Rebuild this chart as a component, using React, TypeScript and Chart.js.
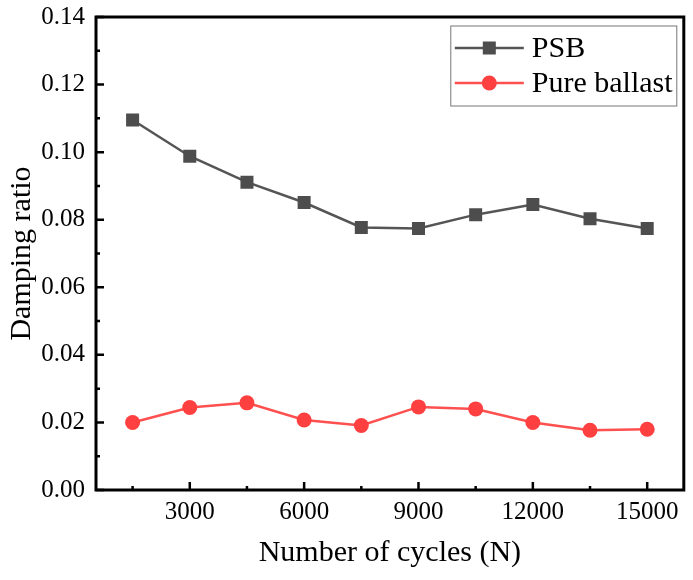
import { useEffect, useRef } from "react"
import { Chart, registerables, type ChartConfiguration, type Plugin } from "chart.js"

Chart.register(...registerables)

const FONT = "'Liberation Serif', 'Times New Roman', serif"

const cycles = [1500, 3000, 4500, 6000, 7500, 9000, 10500, 12000, 13500, 15000]
const psb = [0.1095, 0.0988, 0.0911, 0.0851, 0.0777, 0.0774, 0.0815, 0.0845, 0.0803, 0.0774]
const pureBallast = [0.02, 0.0244, 0.0258, 0.0207, 0.0191, 0.0246, 0.024, 0.02, 0.0177, 0.018]

const xTicks = [3000, 6000, 9000, 12000, 15000]
const xMinorTicks = [1500, 4500, 7500, 10500, 13500]
const yTicks = [0, 0.02, 0.04, 0.06, 0.08, 0.1, 0.12, 0.14]
const yMinorTicks = [0.01, 0.03, 0.05, 0.07, 0.09, 0.11, 0.13]

// frame around the plot + inward tick marks
const framePlugin: Plugin = {
  id: "frame",
  afterDraw(chart) {
    const { ctx, chartArea: a, scales } = chart
    const x = scales.x
    const y = scales.y
    ctx.save()
    ctx.strokeStyle = "#000"
    ctx.lineWidth = 2.5
    ctx.beginPath()
    xTicks.forEach((v) => {
      const px = x.getPixelForValue(v)
      ctx.moveTo(px, a.bottom)
      ctx.lineTo(px, a.bottom - 8)
    })
    xMinorTicks.forEach((v) => {
      const px = x.getPixelForValue(v)
      ctx.moveTo(px, a.bottom)
      ctx.lineTo(px, a.bottom - 4)
    })
    yTicks.forEach((v) => {
      const py = y.getPixelForValue(v)
      ctx.moveTo(a.left, py)
      ctx.lineTo(a.left + 8, py)
    })
    yMinorTicks.forEach((v) => {
      const py = y.getPixelForValue(v)
      ctx.moveTo(a.left, py)
      ctx.lineTo(a.left + 4, py)
    })
    ctx.stroke()
    ctx.lineWidth = 3
    ctx.strokeRect(a.left, a.top, a.right - a.left, a.bottom - a.top)
    ctx.restore()
  },
}

// Origin-style legend: line sample with the marker on it
const legendPlugin: Plugin = {
  id: "originLegend",
  afterDraw(chart) {
    const { ctx, chartArea: a } = chart
    const boxRight = a.right - 7
    const boxLeft = boxRight - 226
    const boxTop = a.top + 9
    const boxH = 80
    ctx.save()
    ctx.fillStyle = "#fff"
    ctx.fillRect(boxLeft, boxTop, boxRight - boxLeft, boxH)
    ctx.strokeStyle = "#777"
    ctx.lineWidth = 1
    ctx.strokeRect(boxLeft, boxTop, boxRight - boxLeft, boxH)
    ctx.font = `30px ${FONT}`
    ctx.textBaseline = "middle"
    chart.data.datasets.forEach((ds: any, i) => {
      const cy = boxTop + 22 + i * 35
      const x0 = boxLeft + 4
      const x1 = boxLeft + 73
      const cx = (x0 + x1) / 2
      ctx.strokeStyle = ds.borderColor
      ctx.lineWidth = ds.borderWidth
      ctx.beginPath()
      ctx.moveTo(x0, cy)
      ctx.lineTo(x1, cy)
      ctx.stroke()
      ctx.fillStyle = ds.pointBackgroundColor
      if (ds.pointStyle === "rect") {
        ctx.fillRect(cx - 6.5, cy - 6.5, 13, 13)
      } else {
        ctx.beginPath()
        ctx.arc(cx, cy, 7.5, 0, Math.PI * 2)
        ctx.fill()
      }
      ctx.fillStyle = "#000"
      ctx.fillText(ds.label, boxLeft + 81, cy + 1)
    })
    ctx.restore()
  },
}

export default function App() {
  const chartRef = useRef<HTMLCanvasElement>(null)
  const chartInstance = useRef<Chart | null>(null)

  useEffect(() => {
    if (!chartRef.current) return
    if (chartInstance.current) chartInstance.current.destroy()

    const config: ChartConfiguration = {
      type: "line",
      data: {
        datasets: [
          {
            label: "PSB",
            data: cycles.map((c, i) => ({ x: c, y: psb[i] })),
            borderColor: "#555555",
            borderWidth: 2.5,
            pointStyle: "rect",
            pointRadius: 9.2,
            pointBackgroundColor: "#4d4d4d",
            pointBorderColor: "#4d4d4d",
            pointBorderWidth: 0,
            tension: 0,
          },
          {
            label: "Pure ballast",
            data: cycles.map((c, i) => ({ x: c, y: pureBallast[i] })),
            borderColor: "#ff5050",
            borderWidth: 2.5,
            pointStyle: "circle",
            pointRadius: 7.5,
            pointBackgroundColor: "#ff4040",
            pointBorderColor: "#ff4040",
            pointBorderWidth: 0,
            tension: 0,
          },
        ],
      },
      options: {
        responsive: true,
        maintainAspectRatio: false,
        animation: false,
        layout: { padding: { top: 17, right: 9, left: 0, bottom: 0 } },
        scales: {
          x: {
            type: "linear",
            min: 540,
            max: 15960,
            afterBuildTicks: (s) => {
              s.ticks = xTicks.map((v) => ({ value: v }))
            },
            afterFit: (s) => {
              s.height = 90
              s.paddingLeft = 0
              s.paddingRight = 0
            },
            grid: { display: false, drawTicks: false },
            border: { display: false },
            ticks: {
              color: "#000",
              font: { family: FONT, size: 25 },
              padding: 7,
              maxRotation: 0,
              autoSkip: false,
              callback: (v) => String(v),
            },
            title: {
              display: true,
              text: "Number of cycles (N)",
              color: "#000",
              font: { family: FONT, size: 30 },
              padding: { top: 0, bottom: 9 },
            },
          },
          y: {
            type: "linear",
            min: 0,
            max: 0.14,
            afterBuildTicks: (s) => {
              s.ticks = yTicks.map((v) => ({ value: v }))
            },
            afterFit: (s) => {
              s.width = 96
              s.paddingTop = 0
              s.paddingBottom = 0
            },
            grid: { display: false, drawTicks: false },
            border: { display: false },
            ticks: {
              color: "#000",
              font: { family: FONT, size: 25 },
              padding: 11,
              callback: (v) => Number(v).toFixed(2),
            },
            title: {
              display: true,
              text: "Damping ratio",
              color: "#000",
              font: { family: FONT, size: 30 },
              padding: { top: 4, bottom: 0 },
            },
          },
        },
        plugins: {
          legend: { display: false },
          tooltip: { enabled: false },
        },
      },
      plugins: [framePlugin, legendPlugin],
    }

    chartInstance.current = new Chart(chartRef.current, config)

    return () => {
      if (chartInstance.current) {
        chartInstance.current.destroy()
        chartInstance.current = null
      }
    }
  }, [])

  return (
    <div style={{ position: "absolute", left: 0, top: 0, width: 693, height: 580, background: "#fff" }}>
      <canvas ref={chartRef} />
    </div>
  )
}
